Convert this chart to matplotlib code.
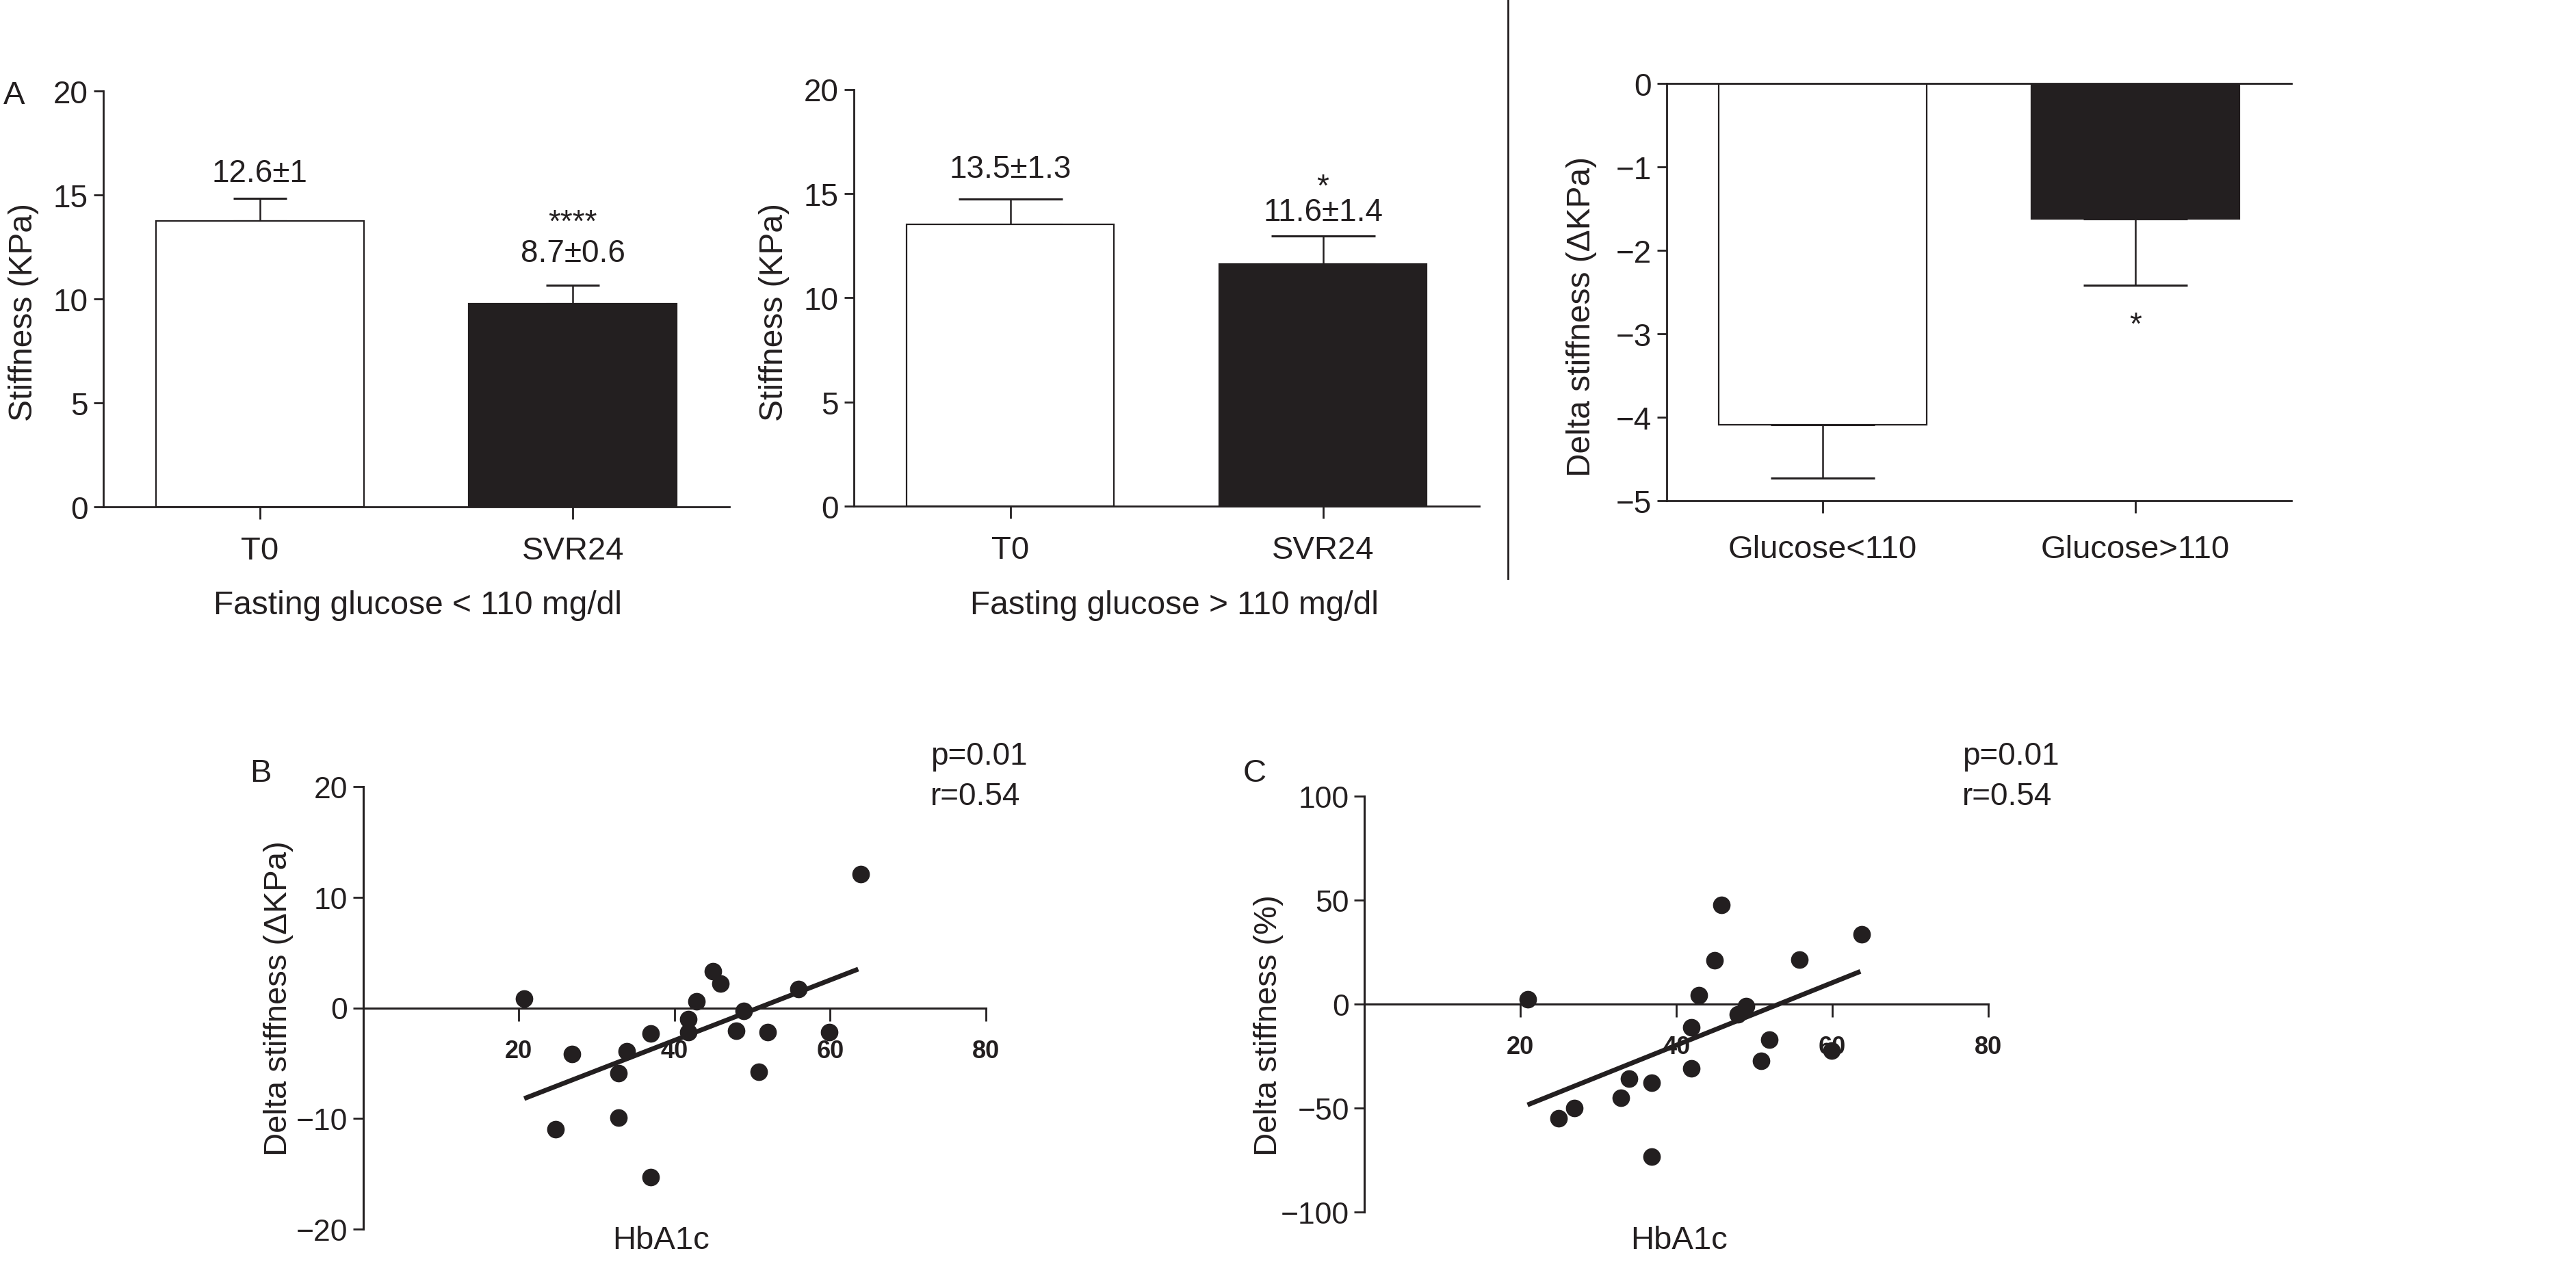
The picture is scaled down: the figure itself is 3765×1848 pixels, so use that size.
import numpy as np
import matplotlib.pyplot as plt
from matplotlib.lines import Line2D

plt.rcParams['font.family'] = ['Liberation Sans', 'DejaVu Sans']

INK = '#231f20'
W, H = 3765, 1849

# panel A data (mean +/- sem)
cats_a = ['T0', 'SVR24']
low_vals = [13.74, 9.77]
low_err = [1.09, 0.89]
high_vals = [13.51, 11.62]
high_err = [1.23, 1.35]

cats_d = ['Glucose<110', 'Glucose>110']
delta_vals = [-4.09, -1.62]
delta_err = [0.64, 0.80]

# panel B / C scatter (HbA1c vs delta stiffness)
b_x = [20.7, 24.7, 26.8, 32.8, 32.8, 33.9, 36.9, 36.9, 41.8, 41.8,
       42.8, 44.9, 45.9, 47.9, 48.9, 50.8, 52.0, 55.9, 59.9, 63.9]
b_y = [0.85, -11.0, -4.2, -5.9, -9.9, -3.9, -2.3, -15.3, -1.0, -2.2,
       0.6, 3.3, 2.2, -2.1, -0.3, -5.8, -2.2, 1.7, -2.2, 12.1]
b_fit_x = [20.7, 63.6]
b_fit_y = [-8.2, 3.5]

c_x = [20.9, 24.9, 26.9, 32.9, 33.9, 36.8, 36.8, 41.9, 41.9, 42.9,
       44.9, 45.8, 47.9, 48.9, 50.9, 51.9, 55.8, 59.9, 63.8]
c_y = [2.3, -55.0, -50.0, -45.3, -36.0, -37.9, -73.4, -11.4, -31.2, 4.2,
       21.1, 47.6, -5.0, -1.0, -27.5, -17.3, 21.3, -22.6, 33.5]
c_fit_x = [20.9, 63.6]
c_fit_y = [-48.6, 15.6]


def rect(x0, x1, ytop, ybot):
    return [x0 / W, 1 - ybot / H, (x1 - x0) / W, (ybot - ytop) / H]


def ftext(x, y, s, **kw):
    fig.text(x / W, 1 - y / H, s, color=INK, **kw)


fig = plt.figure(figsize=(W / 100, H / 100), dpi=100)


def bar_panel(ax, vals, errs, cats, cap):
    xs = np.arange(len(vals))
    ax.bar(xs, vals, width=0.665, color=['white', INK], edgecolor=INK, linewidth=1.6, zorder=2)
    lo = [0 if v > 0 else e for v, e in zip(vals, errs)]
    hi = [e if v > 0 else 0 for v, e in zip(vals, errs)]
    ax.errorbar(xs, vals, yerr=[lo, hi], fmt='none', ecolor=INK, elinewidth=1.8,
                capsize=cap, capthick=2.2, zorder=1)
    ax.set_xlim(-0.5, 1.5)
    ax.set_xticks(xs)
    ax.set_xticklabels(cats)
    for s in ['top', 'right']:
        ax.spines[s].set_visible(False)
    for s in ['left', 'bottom', 'top']:
        ax.spines[s].set_linewidth(2)
        ax.spines[s].set_color(INK)
    ax.tick_params(axis='y', length=10, width=2, pad=6, labelsize=33, colors=INK)
    ax.tick_params(axis='x', length=13, width=2, pad=17, labelsize=34, colors=INK)


# A, left: fasting glucose < 110
ax1 = fig.add_axes(rect(151, 1066, 134, 742))
bar_panel(ax1, low_vals, low_err, cats_a, 28)
ax1.set_ylim(0, 20)
ax1.set_yticks([0, 5, 10, 15, 20])
ax1.text(0, 15.66, '12.6\u00b11', ha='center', va='baseline', fontsize=33, color=INK)
ax1.text(1, 11.8, '8.7\u00b10.6', ha='center', va='baseline', fontsize=33, color=INK)
ax1.text(1, 13.26, '****', ha='center', va='baseline', fontsize=33, color=INK)
ftext(35, 457, 'Stiffness (KPa)', rotation=90, ha='center', va='center', fontsize=34.5)
ftext(610, 885, 'Fasting glucose < 110 mg/dl', ha='center', va='center', fontsize=34.5)
ftext(21, 140, 'A', ha='center', va='center', fontsize=34)

# A, middle: fasting glucose > 110
ax2 = fig.add_axes(rect(1248, 2162, 131.5, 741.4))
bar_panel(ax2, high_vals, high_err, cats_a, 55)
ax2.set_ylim(0, 20)
ax2.set_yticks([0, 5, 10, 15, 20])
ax2.text(0, 15.78, '13.5\u00b11.3', ha='center', va='baseline', fontsize=33, color=INK)
ax2.text(1, 13.73, '11.6\u00b11.4', ha='center', va='baseline', fontsize=33, color=INK)
ax2.text(1, 14.9, '*', ha='center', va='baseline', fontsize=33, color=INK)
ftext(1131, 457, 'Stiffness (KPa)', rotation=90, ha='center', va='center', fontsize=34.5)
ftext(1716, 885, 'Fasting glucose > 110 mg/dl', ha='center', va='center', fontsize=34.5)

# separator
fig.add_artist(Line2D([2204 / W, 2204 / W], [1, 1 - 847 / H], color=INK, lw=2))

# A, right: delta stiffness
ax3 = fig.add_axes(rect(2436, 3349, 123.4, 733))
bar_panel(ax3, delta_vals, delta_err, cats_d, 55)
ax3.spines['top'].set_visible(True)
ax3.set_ylim(-5, 0)
ax3.set_yticks([0, -1, -2, -3, -4, -5])
ax3.tick_params(axis='x', pad=22)
ax3.text(1, -3.0, '*', ha='center', va='baseline', fontsize=33, color=INK)
ftext(2312, 463, 'Delta stiffness (\u0394KPa)', rotation=90, ha='center', va='center', fontsize=34.5)


def scatter_panel(ax, xs, ys, fx, fy):
    ax.plot(fx, fy, color=INK, lw=5, solid_capstyle='butt', zorder=2)
    ax.plot(xs, ys, 'o', ms=17.5, color=INK, mec=INK, zorder=3, clip_on=False)
    ax.set_xlim(0, 80)
    ax.set_xticks([20, 40, 60, 80])
    for s in ['top', 'right']:
        ax.spines[s].set_visible(False)
    ax.spines['bottom'].set_position(('data', 0))
    for s in ['left', 'bottom']:
        ax.spines[s].set_linewidth(2.2)
        ax.spines[s].set_color(INK)
    ax.tick_params(axis='y', length=11, width=2, pad=5, labelsize=32, colors=INK)
    ax.tick_params(axis='x', length=13.5, width=2, pad=19, labelsize=26, colors=INK)
    for lab in ax.get_xticklabels():
        lab.set_fontweight('bold')


# B
axb = fig.add_axes(rect(530.6, 1441, 1151, 1798))
scatter_panel(axb, b_x, b_y, b_fit_x, b_fit_y)
axb.set_ylim(-20, 20)
axb.set_yticks([-20, -10, 0, 10, 20])
ftext(407, 1460, 'Delta stiffness (\u0394KPa)', rotation=90, ha='center', va='center', fontsize=34)
ftext(966, 1814, 'HbA1c', ha='center', va='center', fontsize=34)
ftext(381, 1131, 'B', ha='center', va='center', fontsize=34)
ftext(1360, 1106, 'p=0.01', ha='left', va='center', fontsize=33)
ftext(1360, 1165, 'r=0.54', ha='left', va='center', fontsize=33)

# C
axc = fig.add_axes(rect(1994.4, 2906, 1164.7, 1772.6))
scatter_panel(axc, c_x, c_y, c_fit_x, c_fit_y)
axc.set_ylim(-100, 100)
axc.set_yticks([-100, -50, 0, 50, 100])
ftext(1854, 1499, 'Delta stiffness (%)', rotation=90, ha='center', va='center', fontsize=34)
ftext(2454, 1814, 'HbA1c', ha='center', va='center', fontsize=34)
ftext(1834, 1131, 'C', ha='center', va='center', fontsize=34)
ftext(2868, 1106, 'p=0.01', ha='left', va='center', fontsize=33)
ftext(2868, 1165, 'r=0.54', ha='left', va='center', fontsize=33)

fig.savefig('out.png', dpi=100, facecolor='white')
